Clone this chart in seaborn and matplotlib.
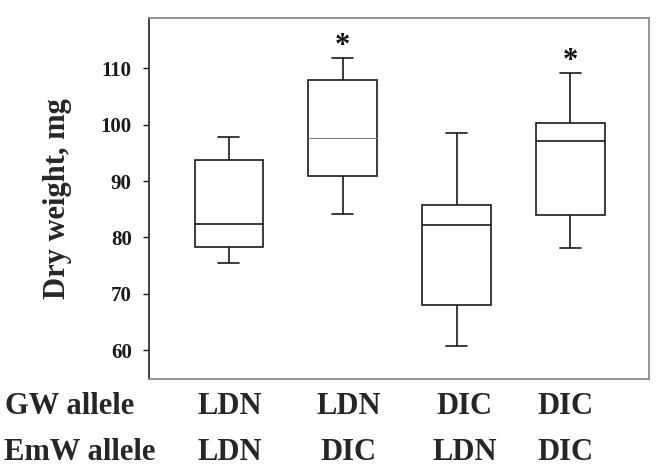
import matplotlib
matplotlib.use("Agg")
import matplotlib.pyplot as plt
import seaborn as sns
import pandas as pd

# Box statistics: [whisker low, Q1, median, Q3, whisker high]
groups = ["LDN/LDN", "LDN/DIC", "DIC/LDN", "DIC/DIC"]
box1 = [75.4, 78.35, 82.3, 93.7, 97.8]
box2 = [84.1, 90.85, 97.6, 107.9, 111.8]
box3 = [60.8, 68.05, 82.2, 85.7, 98.5]
box4 = [78.1, 83.9, 97.1, 100.3, 109.2]
gw_allele = ["LDN", "LDN", "DIC", "DIC"]
emw_allele = ["LDN", "DIC", "LDN", "DIC"]
significant = [False, True, False, True]
yticks = [60, 70, 80, 90, 100, 110]

rows = []
for g, vals in zip(groups, [box1, box2, box3, box4]):
    for v in vals:
        rows.append({"group": g, "value": v})
df = pd.DataFrame(rows)

sns.set_style("ticks")
plt.rcParams["font.family"] = ["Liberation Serif", "DejaVu Serif"]
plt.rcParams["font.weight"] = "bold"

fig = plt.figure(figsize=(6.67, 4.69), dpi=100)
fig.patch.set_facecolor("white")
ax = fig.add_axes([149 / 667, 1 - 379 / 469, 500 / 667, 361 / 469])

sns.boxplot(data=df, x="group", y="value", order=groups, whis=(0, 100),
            width=0.6, color="white", linecolor="#1a1a1a", linewidth=1.2,
            showfliers=False, ax=ax)

cont = ax.containers[0]
# thin gray median on the second box
cont.medians[1].set_color("#808080")
cont.medians[1].set_linewidth(0.8)
# narrower caps
for cap in cont.caps:
    xs = cap.get_xdata()
    c = (xs[0] + xs[1]) / 2
    cap.set_xdata([c - 0.092, c + 0.092])

ax.set_xlim(-0.70, 3.69)
ax.set_ylim(54.9, 118.9)
ax.set_yticks(yticks)
ax.set_yticklabels([str(t) for t in yticks])
ax.tick_params(axis="y", labelsize=15, length=4.5, width=1.0, pad=8, colors="#1a1a1a")
for lbl in ax.get_yticklabels():
    lbl.set_fontweight("bold")
ax.set_xticks([])
ax.set_xlabel("")

ax.set_ylabel("Dry weight, mg", fontsize=22, fontweight="bold")
ax.yaxis.label.set_va("center")
ax.yaxis.set_label_coords((57 - 149) / 500, 0.5)

for side in ["top", "right", "bottom"]:
    ax.spines[side].set_visible(True)
    ax.spines[side].set_color("#8c8c8c")
    ax.spines[side].set_linewidth(1.3)
ax.spines["left"].set_color("#333333")
ax.spines["left"].set_linewidth(1.3)
ax.set_facecolor("white")

# significance stars
for i, (sig, vals) in enumerate(zip(significant, [box1, box2, box3, box4])):
    if sig:
        ax.text(i, vals[-1] + 2.0, "*", ha="center", va="center",
                fontsize=22, fontweight="bold", color="#111111")

# allele label rows beneath the plot
trans = ax.get_xaxis_transform()
offsets = [0.01, 1.05, 2.07, 2.96]
ax.text((5 - 149) / 500, -0.097, "GW allele", transform=ax.transAxes,
        ha="left", va="baseline", fontsize=22, fontweight="bold")
ax.text((4 - 149) / 500, -0.224, "EmW allele", transform=ax.transAxes,
        ha="left", va="baseline", fontsize=22, fontweight="bold")
for x, a, b in zip(offsets, gw_allele, emw_allele):
    ax.text(x, -0.097, a, transform=trans, ha="center", va="baseline",
            fontsize=22, fontweight="bold")
    ax.text(x, -0.224, b, transform=trans, ha="center", va="baseline",
            fontsize=22, fontweight="bold")

fig.savefig("out.png", dpi=100, facecolor="white")
